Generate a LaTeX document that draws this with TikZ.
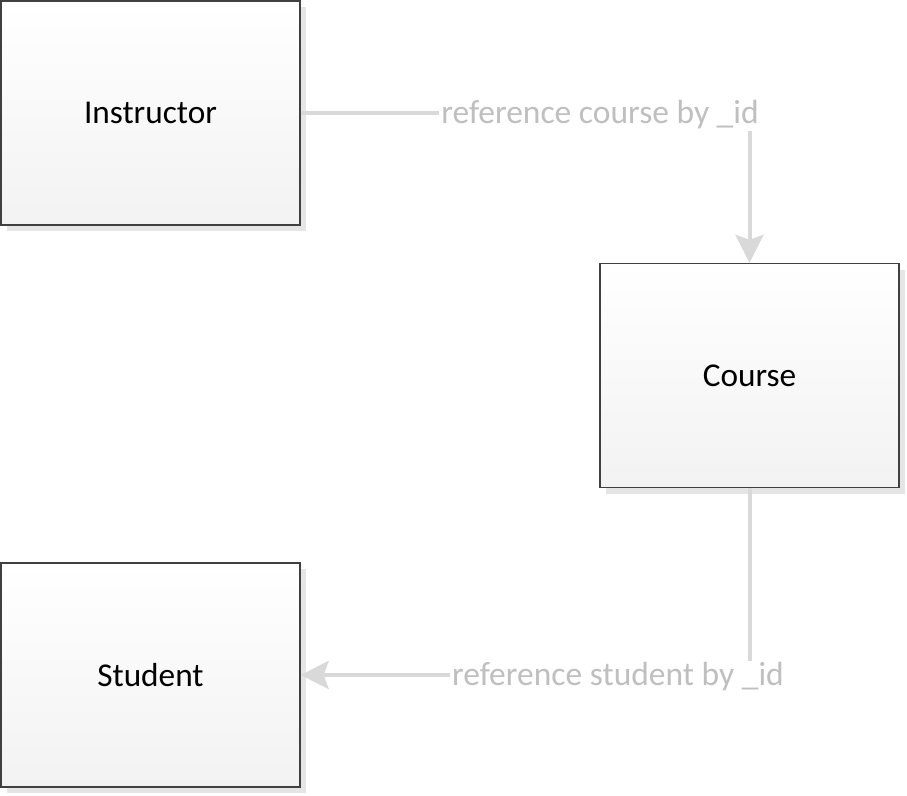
\documentclass[tikz,border=0pt]{standalone}
\usepackage{fontspec}
\setmainfont{Carlito}
\usetikzlibrary{arrows.meta,shadows}
\definecolor{boxline}{HTML}{404040}
\definecolor{connline}{HTML}{D9D9D9}
\definecolor{lbltext}{HTML}{BFBFBF}
\definecolor{shadowcol}{HTML}{E5E5E5}
\tikzset{
  entity/.style={draw=boxline, line width=1.3pt, minimum width=299pt, minimum height=224pt,
    inner sep=0pt, top color=white, bottom color=black!5,
    drop shadow={shadow xshift=6pt, shadow yshift=-6pt, fill=shadowcol, opacity=1},
    font=\fontsize{33.3}{40}\selectfont, text=black},
  conn/.style={draw=connline, line width=4pt},
  conntip/.style={-{Stealth[length=28pt,width=28pt,inset=5pt]}},
  lbl/.style={fill=white, inner sep=2pt, text=lbltext, font=\fontsize{33.5}{40}\selectfont}
}
\begin{document}
\begin{tikzpicture}[x=1pt,y=-1pt]
\useasboundingbox (0,0) rectangle (907,795);
\node[entity] (ins) at (150.5,113) {Instructor};
\node[entity] (crs) at (749.5,375.5) {Course};
\node[entity] (stu) at (150.5,675) {Student};
\draw[conn,conntip] (ins.east) -| (crs.north);
\draw[conn,conntip] (crs.south) |- (stu.east);
\node[lbl] (l1) at (600,115) {reference course by \_id};
\node[lbl] (l2) at (618,677) {reference student by \_id};
\end{tikzpicture}
\end{document}
